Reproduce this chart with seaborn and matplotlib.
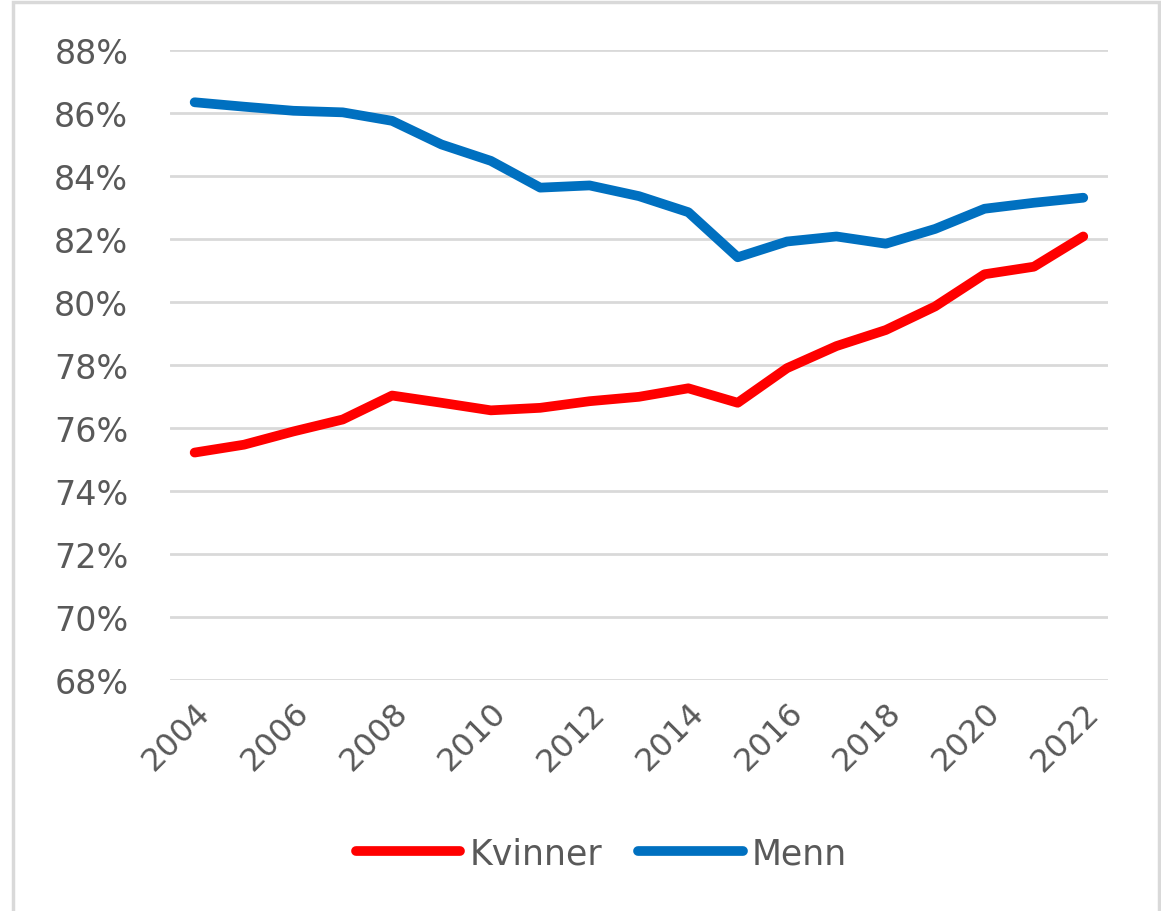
import numpy as np
import pandas as pd
import seaborn as sns
import matplotlib.pyplot as plt
from matplotlib.patches import Rectangle
from matplotlib.ticker import FuncFormatter

# Daten
years = list(range(2004, 2023))
kvinner = [75.22, 75.47, 75.89, 76.27, 77.03, 76.80, 76.56, 76.64, 76.85, 76.99,
           77.26, 76.80, 77.90, 78.60, 79.11, 79.86, 80.88, 81.12, 82.08]
menn = [86.34, 86.20, 86.07, 86.02, 85.75, 85.00, 84.48, 83.63, 83.70, 83.36,
        82.85, 81.42, 81.92, 82.08, 81.85, 82.32, 82.96, 83.15, 83.31]
series_names = ["Kvinner", "Menn"]
colors = {"Kvinner": "#FF0000", "Menn": "#0070C0"}
year_ticks = list(range(2004, 2023, 2))
y_ticks = list(range(68, 89, 2))

df = pd.DataFrame({
    "idx": list(range(len(years))) * 2,
    "verdi": kvinner + menn,
    "kjonn": ["Kvinner"] * len(years) + ["Menn"] * len(years),
})

sns.set_theme(style="white")
plt.rcParams["font.family"] = ["DejaVu Sans"]

fig = plt.figure(figsize=(11.61, 9.12), dpi=100)
ax = fig.add_axes([0.1464, 0.2533, 0.8079, 0.6908])

sns.lineplot(data=df, x="idx", y="verdi", hue="kjonn", hue_order=series_names,
             palette=colors, linewidth=7, ax=ax, legend=False,
             solid_capstyle="round", solid_joinstyle="round", zorder=3)

grey = "#595959"
ax.set_xlim(-0.5, len(years) - 0.5)
ax.set_ylim(68, 88)
ax.set_yticks(y_ticks)
ax.yaxis.set_major_formatter(FuncFormatter(lambda v, p: f"{v:.0f}%"))
ax.set_xticks([years.index(y) for y in year_ticks])
ax.set_xticklabels([str(y) for y in year_ticks], rotation=45, ha="right",
                   rotation_mode="anchor")
ax.tick_params(axis="both", length=0, labelsize=23, colors=grey)
ax.tick_params(axis="y", pad=30, labelsize=24)
ax.tick_params(axis="x", pad=12)
ax.set_xlabel("")
ax.set_ylabel("")
ax.grid(axis="y", color="#D9D9D9", linewidth=2)
ax.set_axisbelow(True)
for s in ax.spines.values():
    s.set_visible(False)

handles = [plt.Line2D([0], [0], color=colors[n], linewidth=7, solid_capstyle="round")
           for n in series_names]
fig.legend(handles, series_names, loc="center", bbox_to_anchor=(0.518, 0.063),
           ncol=2, frameon=False, fontsize=25, labelcolor=grey,
           handlelength=3.0, handletextpad=0.25, columnspacing=1.05)

fig.patches.append(Rectangle((0.011, -0.05), 0.987, 1.047, transform=fig.transFigure,
                             fill=False, edgecolor="#D9D9D9", linewidth=2.5))

fig.savefig("out.png", dpi=100)
